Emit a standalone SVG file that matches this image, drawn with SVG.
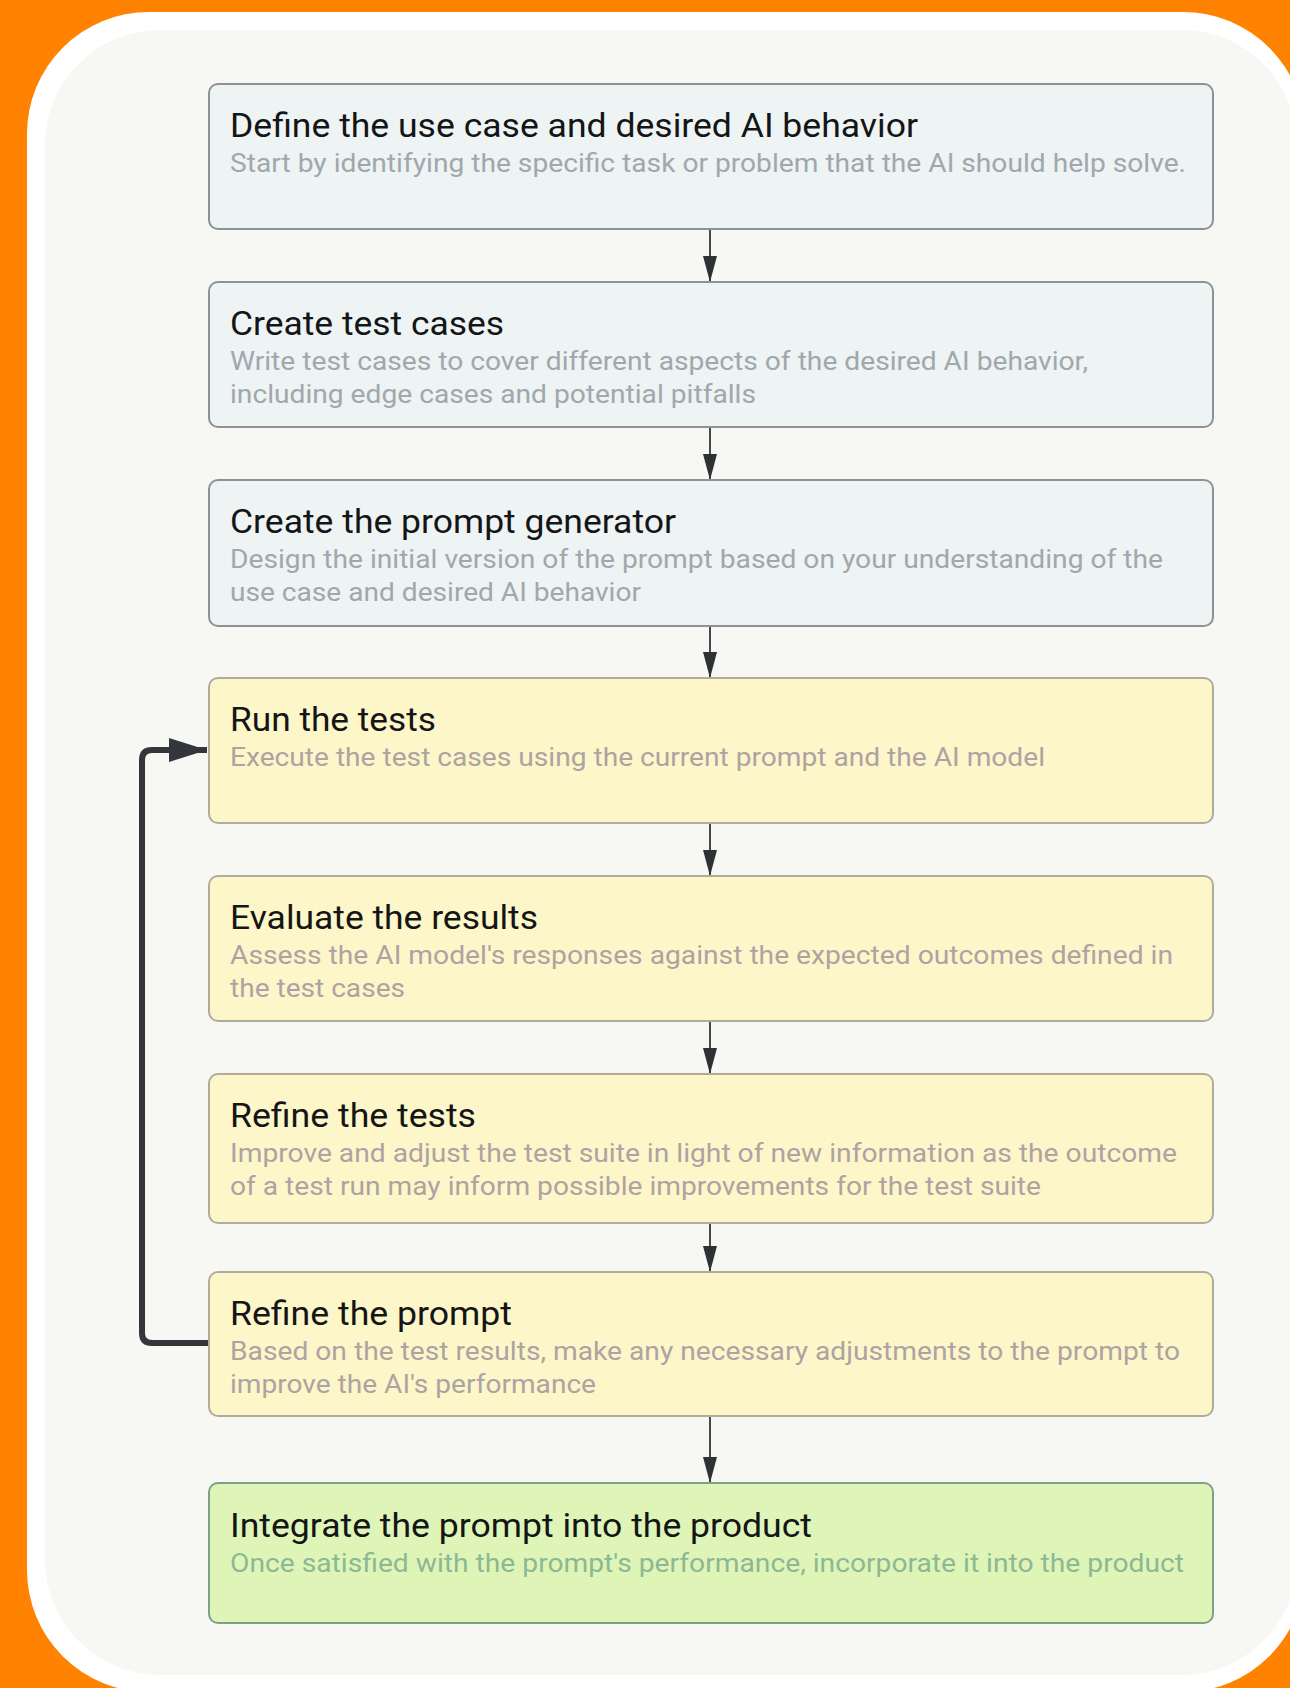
<svg xmlns="http://www.w3.org/2000/svg" width="1290" height="1688" viewBox="0 0 1290 1688">
  <style>
    .box-blue { fill: #eef3f4; stroke: #8d9296; stroke-width: 2; }
    .box-yellow { fill: #fdf6c9; stroke: #b2ab9c; stroke-width: 2; }
    .box-green { fill: #dff5b8; stroke: #7f9f88; stroke-width: 2; }
    .title { font-family: Roboto, "Liberation Sans", sans-serif; font-size: 33px; font-weight: 400; fill: #141516; }
    .sub { font-family: Roboto, "Liberation Sans", sans-serif; font-size: 26px; }
    .sub-blue { fill: #a0a8ad; }
    .sub-yellow { fill: #aea3a3; }
    .sub-green { fill: #8db894; }
    .flow { stroke: #45484c; stroke-width: 2; fill: none; }
    .loop { stroke: #33363a; stroke-width: 6; fill: none; stroke-linejoin: round; }
  </style>
  <defs>
    <marker id="head" viewBox="0 0 26 14" refX="26" refY="7" markerWidth="26" markerHeight="14" markerUnits="userSpaceOnUse" orient="auto">
      <path d="M0,0 L26,7 L0,14 Z" fill="#2f3235"/>
    </marker>
    <marker id="loophead" viewBox="0 0 38 24" refX="38" refY="12" markerWidth="38" markerHeight="24" markerUnits="userSpaceOnUse" orient="auto">
      <path d="M0,0 L38,12 L0,24 Z" fill="#33363a"/>
    </marker>
  </defs>

  <rect x="0" y="0" width="1290" height="1688" fill="#ff8200"/>
  <rect x="27" y="12" width="1278" height="1680" rx="122" ry="122" fill="#ffffff"/>
  <rect x="45" y="30" width="1252" height="1645" rx="115" ry="115" fill="#f7f8f4"/>

  <g id="connectors">
    <line class="flow" x1="710" y1="229" x2="710" y2="282" marker-end="url(#head)"/>
    <line class="flow" x1="710" y1="427" x2="710" y2="480" marker-end="url(#head)"/>
    <line class="flow" x1="710" y1="626" x2="710" y2="678" marker-end="url(#head)"/>
    <line class="flow" x1="710" y1="823" x2="710" y2="876" marker-end="url(#head)"/>
    <line class="flow" x1="710" y1="1021" x2="710" y2="1074" marker-end="url(#head)"/>
    <line class="flow" x1="710" y1="1223" x2="710" y2="1272" marker-end="url(#head)"/>
    <line class="flow" x1="710" y1="1416" x2="710" y2="1483" marker-end="url(#head)"/>
    <path class="loop" d="M209,1343 L152,1343 Q142,1343 142,1333 L142,760 Q142,750 152,750 L207,750" marker-end="url(#loophead)"/>
  </g>

  <g id="node-define">
    <rect class="box-blue" x="209" y="84" width="1004" height="145" rx="9"/>
    <text class="title" x="230" y="137" textLength="688" lengthAdjust="spacingAndGlyphs">Define the use case and desired AI behavior</text>
    <text class="sub sub-blue" x="230" y="172" textLength="956" lengthAdjust="spacingAndGlyphs">Start by identifying the specific task or problem that the AI should help solve.</text>
  </g>

  <g id="node-testcases">
    <rect class="box-blue" x="209" y="282" width="1004" height="145" rx="9"/>
    <text class="title" x="230" y="335" textLength="274" lengthAdjust="spacingAndGlyphs">Create test cases</text>
    <text class="sub sub-blue" x="230" y="370" textLength="858" lengthAdjust="spacingAndGlyphs">Write test cases to cover different aspects of the desired AI behavior,</text>
    <text class="sub sub-blue" x="230" y="403" textLength="526" lengthAdjust="spacingAndGlyphs">including edge cases and potential pitfalls</text>
  </g>

  <g id="node-generator">
    <rect class="box-blue" x="209" y="480" width="1004" height="146" rx="9"/>
    <text class="title" x="230" y="533" textLength="446" lengthAdjust="spacingAndGlyphs">Create the prompt generator</text>
    <text class="sub sub-blue" x="230" y="568" textLength="933" lengthAdjust="spacingAndGlyphs">Design the initial version of the prompt based on your understanding of the</text>
    <text class="sub sub-blue" x="230" y="601" textLength="411" lengthAdjust="spacingAndGlyphs">use case and desired AI behavior</text>
  </g>

  <g id="node-run">
    <rect class="box-yellow" x="209" y="678" width="1004" height="145" rx="9"/>
    <text class="title" x="230" y="731" textLength="206" lengthAdjust="spacingAndGlyphs">Run the tests</text>
    <text class="sub sub-yellow" x="230" y="766" textLength="815" lengthAdjust="spacingAndGlyphs">Execute the test cases using the current prompt and the AI model</text>
  </g>

  <g id="node-evaluate">
    <rect class="box-yellow" x="209" y="876" width="1004" height="145" rx="9"/>
    <text class="title" x="230" y="929" textLength="308" lengthAdjust="spacingAndGlyphs">Evaluate the results</text>
    <text class="sub sub-yellow" x="230" y="964" textLength="943" lengthAdjust="spacingAndGlyphs">Assess the AI model's responses against the expected outcomes defined in</text>
    <text class="sub sub-yellow" x="230" y="997" textLength="175" lengthAdjust="spacingAndGlyphs">the test cases</text>
  </g>

  <g id="node-refine-tests">
    <rect class="box-yellow" x="209" y="1074" width="1004" height="149" rx="9"/>
    <text class="title" x="230" y="1127" textLength="246" lengthAdjust="spacingAndGlyphs">Refine the tests</text>
    <text class="sub sub-yellow" x="230" y="1162" textLength="947" lengthAdjust="spacingAndGlyphs">Improve and adjust the test suite in light of new information as the outcome</text>
    <text class="sub sub-yellow" x="230" y="1195" textLength="811" lengthAdjust="spacingAndGlyphs">of a test run may inform possible improvements for the test suite</text>
  </g>

  <g id="node-refine-prompt">
    <rect class="box-yellow" x="209" y="1272" width="1004" height="144" rx="9"/>
    <text class="title" x="230" y="1325" textLength="282" lengthAdjust="spacingAndGlyphs">Refine the prompt</text>
    <text class="sub sub-yellow" x="230" y="1360" textLength="950" lengthAdjust="spacingAndGlyphs">Based on the test results, make any necessary adjustments to the prompt to</text>
    <text class="sub sub-yellow" x="230" y="1393" textLength="366" lengthAdjust="spacingAndGlyphs">improve the AI's performance</text>
  </g>

  <g id="node-integrate">
    <rect class="box-green" x="209" y="1483" width="1004" height="140" rx="9"/>
    <text class="title" x="230" y="1537" textLength="582" lengthAdjust="spacingAndGlyphs">Integrate the prompt into the product</text>
    <text class="sub sub-green" x="230" y="1572" textLength="954" lengthAdjust="spacingAndGlyphs">Once satisfied with the prompt's performance, incorporate it into the product</text>
  </g>
</svg>
